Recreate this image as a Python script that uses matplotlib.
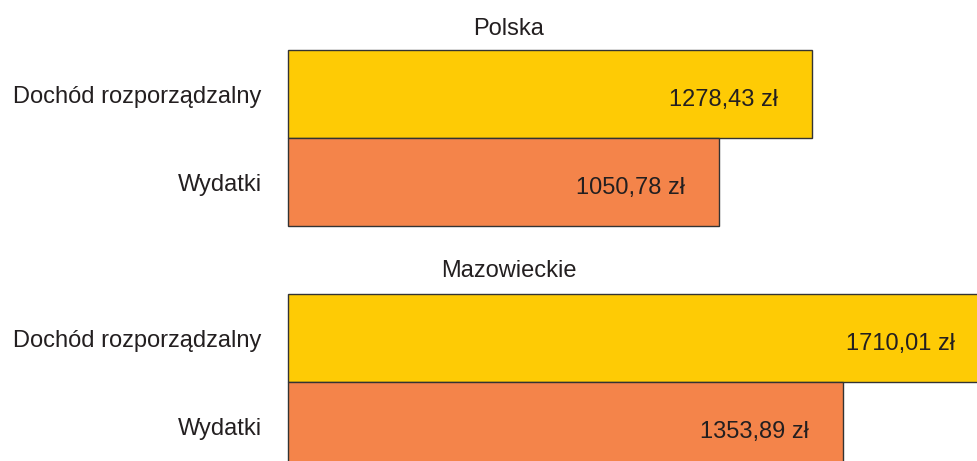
import matplotlib.pyplot as plt

# Dane
regiony = ['Polska', 'Mazowieckie']
kategorie = ['Dochód rozporządzalny', 'Wydatki']
dochod = [1278.43, 1710.01]
wydatki = [1050.78, 1353.89]

kolory = ['#FECB05', '#F4844A']
tekst = '#231F20'

plt.rcParams['font.family'] = ['Liberation Sans', 'DejaVu Sans']

W, H = 977, 461
fig = plt.figure(figsize=(W / 100, H / 100), dpi=100)

# położenie paneli w pikselach (góra paneli)
gory = [50, 294]
tytuly_y = [35, 277]
lewo = 288
wys = 176
xmax = (W - lewo) / 0.41

for i, reg in enumerate(regiony):
    ax = fig.add_axes([lewo / W, (H - gory[i] - wys) / H, (W - lewo) / W, wys / H])
    wartosci = [dochod[i], wydatki[i]]
    slupki = ax.barh([0, 1], wartosci, height=1, color=kolory, edgecolor='#333333', linewidth=1)
    for b in slupki:
        b.set_clip_on(False)
    ax.set_xlim(0, xmax)
    ax.set_ylim(1.5, -0.5)
    ax.set_yticks([0, 1])
    ax.set_yticklabels(kategorie, fontsize=17, color=tekst)
    ax.tick_params(axis='y', length=0, pad=19)
    ax.set_xticks([])
    for s in ax.spines.values():
        s.set_visible(False)
    for j, v in enumerate(wartosci):
        ax.annotate(f'{v:.2f} zł'.replace('.', ','), (v, j), xytext=(-34, -6),
                    textcoords='offset pixels', ha='right', va='center',
                    fontsize=17, color=tekst, annotation_clip=False)
    fig.text(509 / W, 1 - tytuly_y[i] / H, reg, ha='center', va='baseline',
             fontsize=17, color=tekst)

fig.savefig('out.png', dpi=100)
